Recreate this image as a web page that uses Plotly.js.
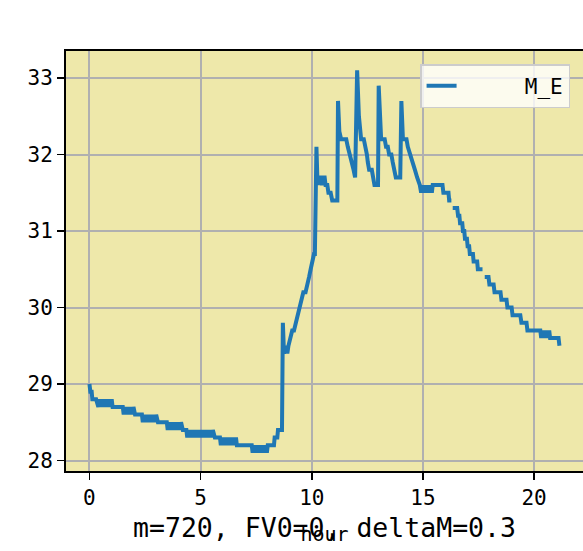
<!DOCTYPE html>
<html>
<head>
<meta charset="utf-8">
<script src="https://cdn.plot.ly/plotly-3.0.1.min.js"></script>
<style>html,body{margin:0;padding:0;background:#fff;}#chart{width:583px;height:551px;}</style>
</head>
<body>
<div id="chart"></div>
<script>
// Time axis (hours) and M_E readings
const hours = [
  0.00, 0.04, 0.10, 0.13, 0.30,
  0.40, 0.44, 0.48, 0.52, 0.56, 0.60, 0.64, 0.68, 0.72, 0.76, 0.80, 0.84, 0.88, 0.92, 0.96, 1.00, 1.04,
  1.50, 1.54, 1.58, 1.62, 1.66, 1.70, 1.74, 1.78, 1.82, 1.86, 1.90, 1.94, 1.98, 2.02, 2.05,
  2.36, 2.40, 2.44, 2.48, 2.52, 2.56, 2.60, 2.64, 2.68, 2.72, 2.76, 2.80, 2.84, 2.88, 2.92, 2.96, 3.00, 3.04, 3.08,
  3.48, 3.52, 3.56, 3.60, 3.64, 3.68, 3.72, 3.76, 3.80, 3.84, 3.88, 3.92, 3.96, 4.00, 4.04, 4.08, 4.12, 4.16, 4.20,
  4.36, 4.40, 4.45, 4.50, 4.55, 4.60, 4.65, 4.70, 4.75, 4.80, 4.85, 4.90, 4.95, 5.00, 5.05, 5.10, 5.15, 5.20, 5.25, 5.30, 5.35, 5.40, 5.45, 5.50, 5.55, 5.60, 5.64,
  5.87, 5.91, 5.95, 5.99, 6.03, 6.07, 6.11, 6.15, 6.19, 6.23, 6.27, 6.31, 6.35, 6.39, 6.43, 6.47, 6.51, 6.55, 6.59, 6.63,
  7.30, 7.34, 7.38, 7.42, 7.46, 7.50, 7.54, 7.58, 7.62, 7.66, 7.70, 7.74, 7.78, 7.82, 7.86, 7.90, 7.94, 7.98, 8.02, 8.07,
  8.30, 8.33, 8.45, 8.48, 8.66,
  8.70, 8.75, 8.85, 8.90, 8.95, 9.05, 9.12, 9.20, 9.28, 9.36, 9.45, 9.52, 9.62, 9.72, 9.78, 9.88, 9.95, 10.02, 10.10, 10.14,
  10.21, 10.26, 10.30, 10.40, 10.45, 10.50, 10.58, 10.62, 10.70, 10.75, 10.85, 10.92, 11.15,
  11.18, 11.24, 11.32, 11.55, 11.62, 11.72, 11.80, 11.88, 11.95,
  12.04, 12.12, 12.22, 12.34, 12.42, 12.48, 12.52, 12.58, 12.70, 12.76, 12.82, 12.98,
  13.01, 13.12, 13.28, 13.34, 13.42, 13.48, 13.58, 13.64, 13.72, 13.78, 13.98,
  14.03, 14.10, 14.26, 14.32, 14.44, 14.54, 14.64, 14.74, 14.86,
  14.92, 14.96, 15.00, 15.04, 15.08, 15.12, 15.16, 15.20, 15.24, 15.28, 15.32, 15.36, 15.40, 15.44,
  15.88, 15.92, 16.15, 16.18, 16.28, 16.30,
  16.34, 16.54, 16.58, 16.64, 16.67, 16.77, 16.80, 16.86, 16.89, 16.98, 17.01, 17.08, 17.11, 17.25, 17.28, 17.44, 17.47, 17.68, 17.72,
  17.78, 17.95, 17.99, 18.18, 18.22, 18.49, 18.53, 18.76, 18.80, 18.99, 19.03, 19.38, 19.43, 19.66, 19.70, 20.28,
  20.32, 20.36, 20.40, 20.44, 20.48, 20.52, 20.56, 20.60, 20.64, 20.68, 20.72, 21.10, 21.14
];
const mE = [
  29.0, 28.9, 28.9, 28.8, 28.8,
  28.7, 28.8, 28.7, 28.8, 28.7, 28.8, 28.7, 28.8, 28.7, 28.8, 28.7, 28.8, 28.7, 28.8, 28.7, 28.8, 28.7,
  28.7, 28.6, 28.7, 28.6, 28.7, 28.6, 28.7, 28.6, 28.7, 28.6, 28.7, 28.6, 28.7, 28.6, 28.6,
  28.6, 28.5, 28.6, 28.5, 28.6, 28.5, 28.6, 28.5, 28.6, 28.5, 28.6, 28.5, 28.6, 28.5, 28.6, 28.5, 28.6, 28.5, 28.5,
  28.5, 28.4, 28.5, 28.4, 28.5, 28.4, 28.5, 28.4, 28.5, 28.4, 28.5, 28.4, 28.5, 28.4, 28.5, 28.4, 28.5, 28.4, 28.4,
  28.4, 28.3, 28.4, 28.3, 28.4, 28.3, 28.4, 28.3, 28.4, 28.3, 28.4, 28.3, 28.4, 28.3, 28.4, 28.3, 28.4, 28.3, 28.4, 28.3, 28.4, 28.3, 28.4, 28.3, 28.4, 28.3, 28.3,
  28.3, 28.2, 28.3, 28.2, 28.3, 28.2, 28.3, 28.2, 28.3, 28.2, 28.3, 28.2, 28.3, 28.2, 28.3, 28.2, 28.3, 28.2, 28.3, 28.2,
  28.2, 28.1, 28.2, 28.1, 28.2, 28.1, 28.2, 28.1, 28.2, 28.1, 28.2, 28.1, 28.2, 28.1, 28.2, 28.1, 28.2, 28.1, 28.2, 28.2,
  28.2, 28.3, 28.3, 28.4, 28.4,
  29.8, 29.4, 29.5, 29.4, 29.5, 29.6, 29.7, 29.7, 29.8, 29.9, 30.0, 30.1, 30.2, 30.2, 30.3, 30.4, 30.5, 30.6, 30.7, 30.7,
  32.1, 31.6, 31.7, 31.7, 31.6, 31.7, 31.7, 31.6, 31.6, 31.5, 31.5, 31.4, 31.4,
  32.7, 32.3, 32.2, 32.2, 32.1, 32.0, 31.9, 31.8, 31.7,
  33.1, 32.5, 32.2, 32.2, 32.1, 32.0, 31.9, 31.8, 31.8, 31.7, 31.6, 31.6,
  32.9, 32.2, 32.2, 32.1, 32.1, 32.0, 32.0, 31.9, 31.8, 31.7, 31.7,
  32.7, 32.2, 32.2, 32.1, 32.0, 31.9, 31.8, 31.7, 31.6,
  31.5, 31.6, 31.5, 31.6, 31.5, 31.6, 31.5, 31.6, 31.5, 31.6, 31.5, 31.6, 31.5, 31.6,
  31.6, 31.5, 31.5, 31.4, 31.4, null,
  31.3, 31.3, 31.2, 31.2, 31.1, 31.1, 31.0, 31.0, 30.9, 30.9, 30.8, 30.8, 30.7, 30.7, 30.6, 30.6, 30.5, 30.5, null,
  30.4, 30.4, 30.3, 30.3, 30.2, 30.2, 30.1, 30.1, 30.0, 30.0, 29.9, 29.9, 29.8, 29.8, 29.7, 29.7,
  29.6, 29.7, 29.6, 29.7, 29.6, 29.7, 29.6, 29.7, 29.6, 29.7, 29.6, 29.6, 29.5
];
const seriesName = "M_E";
const xTicks = [0, 5, 10, 15, 20];
const yTicks = [28, 29, 30, 31, 32, 33];
const chartTitle = "m=720, FV0=0, deltaM=0.3";
const xLabel = "hour";

const FONT = "DejaVu Sans Mono, monospace";

const trace = {
  x: hours, y: mE, type: "scatter", mode: "lines", name: "\u00a0\u00a0\u00a0\u00a0\u00a0" + seriesName,
  line: {color: "#1f77b4", width: 4}, connectgaps: false
};

const layout = {
  width: 583, height: 551,
  margin: {l: 66, r: 0, t: 51, b: 80, pad: 0},
  paper_bgcolor: "#ffffff",
  plot_bgcolor: "#eee8aa",
  font: {family: FONT, size: 21, color: "#000"},
  title: {
    text: chartTitle, x: 0.5, xref: "paper", xanchor: "center",
    y: 0.042, yref: "container", yanchor: "middle",
    font: {family: FONT, size: 26.5, color: "#000"}
  },
  xaxis: {
    range: [-1.055, 22.2], tickvals: xTicks, ticktext: xTicks.map(String),
    showgrid: true, gridcolor: "#b0b0b0", gridwidth: 2,
    showline: true, linecolor: "#000", linewidth: 2, mirror: true,
    ticks: "outside", ticklen: 7, tickwidth: 1.6, tickcolor: "#000",
    zeroline: false, tickfont: {family: FONT, size: 21},
    title: {text: xLabel, font: {family: FONT, size: 20}, standoff: 18}
  },
  yaxis: {
    range: [27.863, 33.353], tickvals: yTicks, ticktext: yTicks.map(String),
    showgrid: true, gridcolor: "#b0b0b0", gridwidth: 2,
    showline: true, linecolor: "#000", linewidth: 2, mirror: false,
    ticks: "outside", ticklen: 7, tickwidth: 1.6, tickcolor: "#000",
    zeroline: false, tickfont: {family: FONT, size: 21}
  },
  showlegend: true,
  legend: {
    x: 0.975, xanchor: "right", y: 0.969, yanchor: "top",
    bgcolor: "rgba(255,255,255,0.8)", bordercolor: "#cccccc", borderwidth: 1.5,
    font: {family: FONT, size: 21, color: "#000"}
  }
};

Plotly.newPlot("chart", [trace], layout, {staticPlot: true, displayModeBar: false});
</script>
</body>
</html>
